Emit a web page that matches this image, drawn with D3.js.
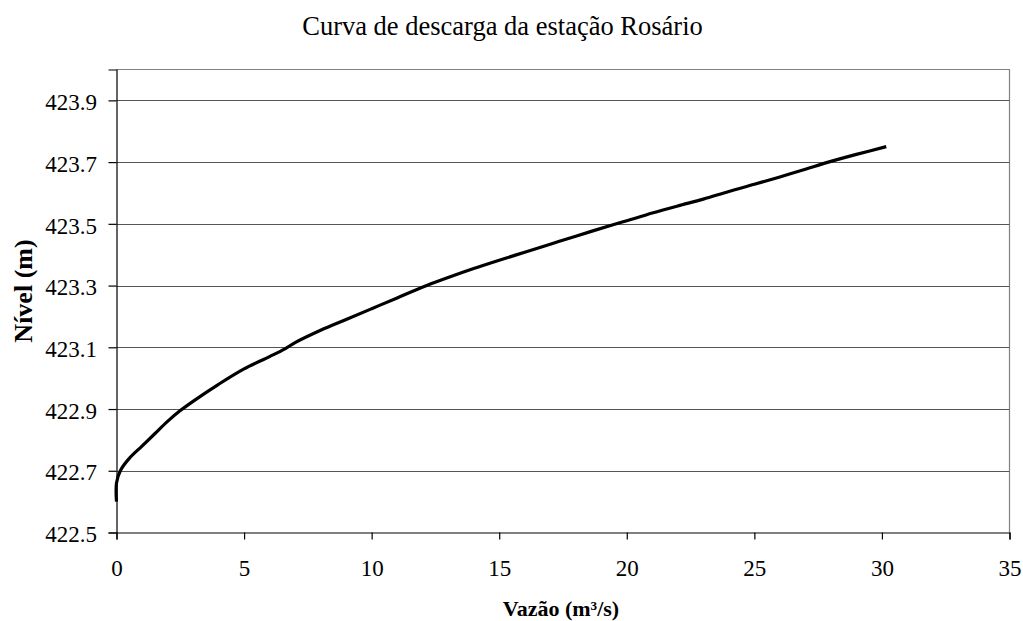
<!DOCTYPE html>
<html>
<head>
<meta charset="utf-8">
<script src="https://cdn.jsdelivr.net/npm/d3@7/dist/d3.min.js"></script>
<style>
  html, body { margin: 0; padding: 0; background: #fff; }
  svg { display: block; }
</style>
</head>
<body>
<svg id="chart" width="1023" height="621"></svg>
<script>
// Rating curve of the Rosário gauging station: discharge (m³/s) vs stage (m)
const discharge = [0, 0, 0.15, 0.5, 1, 1.5, 2, 2.5, 3, 4, 5, 6, 6.6, 7, 8, 9, 10, 11, 12.16, 13, 14, 15, 16, 17, 18, 19.46, 20, 21, 22, 23, 24, 25, 26, 27, 27.9, 29, 30.17];
const stage     = [422.60, 422.66, 422.70, 422.74, 422.78, 422.82, 422.86, 422.895, 422.925, 422.98, 423.03, 423.07, 423.095, 423.115, 423.155, 423.19, 423.225, 423.26, 423.30, 423.326, 423.355, 423.382, 423.408, 423.434, 423.46, 423.497, 423.51, 423.535, 423.558, 423.58, 423.605, 423.628, 423.652, 423.677, 423.70, 423.725, 423.75];

const xTicks = [0, 5, 10, 15, 20, 25, 30, 35];
const yTicks = [422.5, 422.7, 422.9, 423.1, 423.3, 423.5, 423.7, 423.9];
const xDomain = [0, 35];
const yDomain = [422.5, 424.0];

const titleText = "Curva de descarga da estação Rosário";
const xTitle = "Vazão (m³/s)";
const yTitle = "Nível (m)";

const SERIF = "'Liberation Serif', 'Times New Roman', Tinos, 'DejaVu Serif', serif";

const svg = d3.select("#chart");
const plot = { left: 116.5, right: 1009.5, top: 69.5, bottom: 532.5 };

const x = d3.scaleLinear().domain(xDomain).range([plot.left, plot.right]);
const y = d3.scaleLinear().domain(yDomain).range([plot.bottom, plot.top]);

// top and right frame of the plot area
svg.append("path")
  .attr("d", `M${plot.left},${plot.top}H${plot.right}V${plot.bottom}`)
  .attr("fill", "none").attr("stroke", "#808080").attr("stroke-width", 1.2);

// horizontal gridlines
svg.append("g").selectAll("line")
  .data(yTicks.slice(1))
  .join("line")
  .attr("x1", plot.left).attr("x2", plot.right)
  .attr("y1", d => Math.round(y(d)) + 0.5).attr("y2", d => Math.round(y(d)) + 0.5)
  .attr("stroke", "#555").attr("stroke-width", 1.2);

// y axis
const yAxis = svg.append("g")
  .attr("transform", `translate(${plot.left},0)`)
  .call(d3.axisLeft(y).tickValues(yTicks).tickFormat(d3.format(".1f")).tickSize(8).tickPadding(11.5));

// x axis
const xAxis = svg.append("g")
  .attr("transform", `translate(0,${plot.bottom})`)
  .call(d3.axisBottom(x).tickValues(xTicks).tickFormat(d3.format("d")).tickSize(7));

[yAxis, xAxis].forEach(g => {
  g.attr("font-family", SERIF).attr("font-size", 23);
  g.select(".domain").attr("stroke", "#000").attr("stroke-width", 1.2);
  g.selectAll(".tick line").attr("stroke", "#000").attr("stroke-width", 1.2);
  g.selectAll(".tick text").attr("fill", "#000").style("font-family", SERIF);
});
xAxis.selectAll(".tick text").attr("y", 43.5).attr("dy", 0);
yAxis.selectAll(".tick text").attr("dy", "0.4em");

// rating curve
const line = d3.line()
  .x((d, i) => x(discharge[i]))
  .y(d => y(d))
  .curve(d3.curveCatmullRom.alpha(0.5));
svg.append("path")
  .datum(stage)
  .attr("d", line)
  .attr("fill", "none")
  .attr("stroke", "#000")
  .attr("stroke-width", 3.2)
  .attr("stroke-linejoin", "round");

// title
svg.append("text")
  .attr("x", 502.5).attr("y", 35)
  .attr("text-anchor", "middle")
  .attr("font-family", SERIF).attr("font-size", 26.5)
  .text(titleText);

// axis titles
svg.append("text")
  .attr("x", 561).attr("y", 616)
  .attr("text-anchor", "middle")
  .attr("font-family", SERIF).attr("font-size", 22).attr("font-weight", "bold")
  .text(xTitle);

svg.append("text")
  .attr("transform", "translate(32,291) rotate(-90)")
  .attr("text-anchor", "middle")
  .attr("font-family", SERIF).attr("font-size", 26).attr("font-weight", "bold")
  .text(yTitle);
</script>
</body>
</html>
